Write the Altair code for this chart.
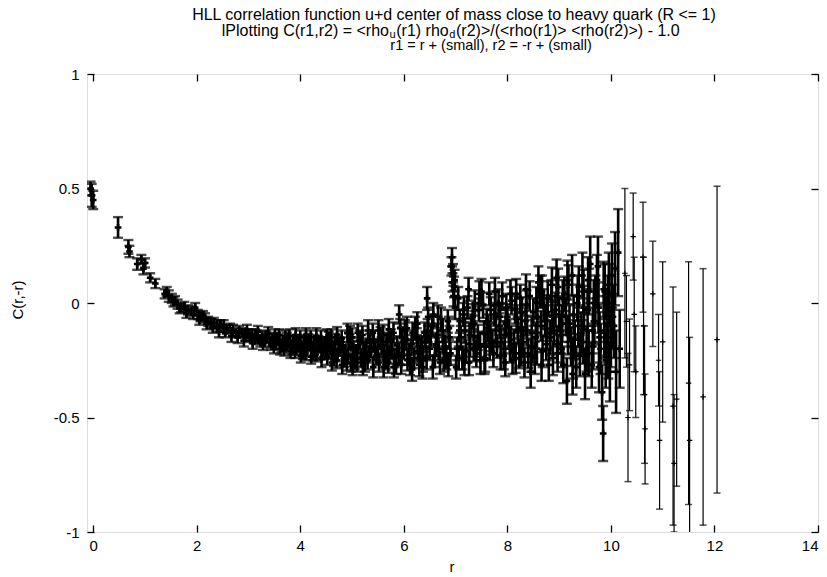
import altair as alt
import pandas as pd

# ---------------- data ----------------
r_a = [-0.05, -0.03, 0.00, 0.48, 0.68, 0.70, 0.85, 0.93, 0.97, 1.00, 1.10, 1.20, 1.38, 1.42, 1.46,
       1.52, 1.58, 1.63, 1.70, 1.76, 1.83, 1.90, 1.97, 2.02, 2.07, 2.12, 2.16, 2.22, 2.28, 2.33,
       2.40, 2.46, 2.52, 2.58, 2.64, 2.70, 2.76, 2.82, 2.88, 2.94, 3.00, 3.06, 3.10, 3.15, 3.20,
       3.26, 3.31, 3.36, 3.42, 3.47, 3.52, 3.57, 3.62, 3.67, 3.72, 3.77, 3.82, 3.87, 3.92, 3.97,
       4.02, 4.07, 4.12, 4.17, 4.22, 4.27, 4.32, 4.37, 4.42, 4.47, 4.52, 4.57, 4.62, 4.67, 4.72,
       4.77, 4.82, 4.87, 4.92, 4.96, 4.98, 5.02, 5.07, 5.12, 5.17, 5.22, 5.27, 5.32, 5.37, 5.42,
       5.47, 5.52, 5.57, 5.62, 5.67, 5.72, 5.77, 5.82, 5.87, 5.91, 5.93, 5.95, 6.00, 6.05, 6.10,
       6.15, 6.20, 6.25, 6.30, 6.35, 6.40, 6.45, 6.47, 6.50, 6.55, 6.60, 6.65, 6.70, 6.75, 6.80,
       6.85, 6.90, 6.93, 6.95, 6.97, 6.99, 7.01, 7.05, 7.10, 7.15, 7.20, 7.25, 7.30, 7.35, 7.40,
       7.45, 7.50, 7.55, 7.60, 7.65, 7.70, 7.75, 7.80, 7.85, 7.90, 7.95, 8.00, 8.05, 8.10, 8.15,
       8.20, 8.25, 8.30, 8.35, 8.40, 8.45, 8.50, 8.55, 8.60, 8.65, 8.70, 8.75, 8.80, 8.85, 8.90,
       8.95, 9.00, 9.05, 9.10, 9.15, 9.20, 9.25, 9.30, 9.35, 9.40, 9.45, 9.50, 9.55, 9.60, 9.65,
       9.70, 9.75, 9.80, 9.83, 9.85, 9.88, 9.92, 9.96, 10.00, 10.04, 10.08, 10.10, 10.14, 10.17]
c_a = [0.50, 0.47, 0.45, 0.33, 0.245, 0.225, 0.17, 0.19, 0.15, 0.175, 0.11, 0.085, 0.04, 0.05, 0.03,
       0.02, 0.01, -0.005, -0.02, -0.015, -0.03, -0.035, -0.02, -0.05, -0.06, -0.055, -0.065, -0.08, -0.09, -0.085,
       -0.10, -0.095, -0.10, -0.115, -0.11, -0.12, -0.13, -0.125, -0.13, -0.14, -0.135, -0.14, -0.155, -0.145, -0.16,
       -0.15, -0.165, -0.155, -0.17, -0.16, -0.175, -0.165, -0.18, -0.17, -0.185, -0.175, -0.19, -0.165, -0.20, -0.18,
       -0.19, -0.175, -0.205, -0.185, -0.20, -0.17, -0.21, -0.19, -0.215, -0.18, -0.235, -0.195, -0.21, -0.17, -0.225,
       -0.20, -0.185, -0.215, -0.23, -0.14, -0.26, -0.20, -0.215, -0.185, -0.24, -0.205, -0.19, -0.225, -0.20, -0.16,
       -0.23, -0.26, -0.19, -0.215, -0.17, -0.225, -0.20, -0.24, -0.185, -0.05, -0.11, -0.27, -0.20, -0.16, -0.225,
       -0.18, -0.24, -0.15, -0.27, -0.19, -0.13, 0.02, -0.06, -0.20, -0.10, -0.23, -0.14, -0.26, -0.12, -0.19,
       -0.08, -0.22, 0.20, 0.13, 0.07, -0.02, -0.28, 0.02, -0.15, -0.05, -0.21, 0.06, -0.10, -0.20, -0.22,
       -0.03, 0.05, -0.13, -0.08, 0.04, -0.17, -0.05, -0.19, -0.10, 0.03, -0.14, -0.06, -0.20, -0.25, -0.03,
       -0.12, 0.02, -0.17, -0.08, -0.22, -0.30, -0.04, -0.15, 0.09, -0.10, -0.01, -0.18, -0.27, 0.03, -0.12,
       0.11, -0.05, -0.20, 0.04, -0.34, -0.09, 0.12, -0.16, 0.00, -0.23, 0.12, -0.31, -0.03, 0.17, -0.12,
       0.02, 0.16, -0.20, -0.39, -0.57, 0.05, -0.10, 0.08, -0.15, -0.06, 0.15, -0.30, 0.22, -0.20]
e_a = [0.03, 0.05, 0.04, 0.045, 0.03, 0.025, 0.025, 0.02, 0.025, 0.02, 0.02, 0.02, 0.02, 0.02, 0.025,
       0.02, 0.02, 0.02, 0.02, 0.02, 0.02, 0.02, 0.02, 0.02, 0.02, 0.02, 0.02, 0.02, 0.02, 0.02,
       0.025, 0.02, 0.025, 0.02, 0.02, 0.025, 0.02, 0.025, 0.02, 0.025, 0.02, 0.025, 0.02, 0.025, 0.02,
       0.025, 0.025, 0.02, 0.025, 0.025, 0.025, 0.02, 0.025, 0.03, 0.025, 0.025, 0.03, 0.025, 0.025, 0.03,
       0.025, 0.03, 0.03, 0.025, 0.03, 0.03, 0.03, 0.025, 0.03, 0.03, 0.035, 0.03, 0.03, 0.035, 0.03,
       0.03, 0.035, 0.03, 0.035, 0.04, 0.04, 0.035, 0.03, 0.035, 0.04, 0.035, 0.035, 0.035, 0.04, 0.04,
       0.04, 0.04, 0.04, 0.035, 0.04, 0.04, 0.045, 0.04, 0.04, 0.04, 0.04, 0.04, 0.045, 0.04, 0.045,
       0.04, 0.045, 0.04, 0.05, 0.045, 0.045, 0.05, 0.04, 0.05, 0.045, 0.05, 0.05, 0.05, 0.05, 0.05,
       0.05, 0.05, 0.04, 0.04, 0.045, 0.05, 0.05, 0.05, 0.05, 0.05, 0.05, 0.05, 0.05, 0.055, 0.06,
       0.05, 0.055, 0.05, 0.055, 0.05, 0.055, 0.05, 0.05, 0.055, 0.06, 0.06, 0.055, 0.06, 0.06, 0.06,
       0.06, 0.06, 0.065, 0.06, 0.065, 0.07, 0.06, 0.065, 0.07, 0.065, 0.07, 0.07, 0.07, 0.07, 0.07,
       0.08, 0.075, 0.08, 0.075, 0.10, 0.08, 0.09, 0.085, 0.08, 0.09, 0.10, 0.11, 0.09, 0.12, 0.10,
       0.10, 0.13, 0.11, 0.12, 0.12, 0.12, 0.13, 0.14, 0.13, 0.14, 0.16, 0.18, 0.19, 0.17]

r_b = [3.03, 3.13, 3.23, 3.33, 3.44, 3.54, 3.64, 3.74, 3.85, 3.95, 4.05, 4.15, 4.25, 4.35, 4.45,
       4.55, 4.65, 4.75, 4.85, 4.95, 5.05, 5.15, 5.25, 5.35, 5.45, 5.55, 5.65, 5.75, 5.85, 5.97,
       6.07, 6.17, 6.27, 6.37, 6.42, 6.52, 6.62, 6.72, 6.82, 6.88, 7.03, 7.08, 7.13, 7.18, 7.23,
       7.28, 7.33, 7.43, 7.48, 7.53, 7.58, 7.63, 7.68, 7.73, 7.78, 7.83, 7.88, 7.93, 7.98, 8.03,
       8.08, 8.13, 8.18, 8.23, 8.28, 8.33, 8.38, 8.43, 8.48, 8.53, 8.58, 8.63, 8.68, 8.73, 8.78,
       8.83, 8.88, 8.93, 8.98, 9.03, 9.08, 9.13, 9.18, 9.23, 9.28, 9.33, 9.38, 9.43, 9.48, 9.53,
       9.58, 9.63, 9.68, 9.73, 9.78, 9.90, 9.94, 9.98, 10.02, 10.06]
c_b = [-0.15, -0.14, -0.17, -0.145, -0.18, -0.155, -0.19, -0.16, -0.20, -0.17, -0.215, -0.165, -0.22, -0.175, -0.20,
       -0.16, -0.24, -0.18, -0.245, -0.17, -0.25, -0.16, -0.26, -0.175, -0.21, -0.15, -0.25, -0.16, -0.27, -0.15,
       -0.25, -0.13, -0.21, -0.25, -0.17, -0.14, -0.18, -0.07, -0.24, -0.15, -0.20, -0.08, -0.24, -0.12, -0.02,
       -0.18, -0.06, -0.15, -0.25, -0.01, -0.19, -0.11, -0.03, -0.22, -0.12, 0.00, -0.17, -0.23, -0.02, -0.13,
       0.01, -0.18, -0.07, -0.22, -0.04, -0.26, -0.12, 0.03, -0.19, -0.24, -0.06, 0.05, -0.21, -0.08, 0.02,
       -0.15, -0.24, -0.03, 0.07, -0.14, -0.27, -0.06, 0.08, -0.19, -0.05, -0.28, 0.07, -0.13, -0.02, -0.20,
       0.05, -0.27, -0.08, 0.10, -0.15, -0.25, 0.00, -0.30, 0.12, -0.10]
e_b = [0.02, 0.025, 0.02, 0.025, 0.025, 0.025, 0.025, 0.03, 0.025, 0.03, 0.03, 0.03, 0.03, 0.03, 0.035,
       0.035, 0.035, 0.03, 0.035, 0.035, 0.04, 0.04, 0.04, 0.04, 0.04, 0.045, 0.04, 0.045, 0.04, 0.045,
       0.045, 0.045, 0.05, 0.05, 0.045, 0.05, 0.05, 0.05, 0.05, 0.05, 0.05, 0.05, 0.05, 0.055, 0.05,
       0.055, 0.055, 0.055, 0.06, 0.055, 0.055, 0.06, 0.055, 0.06, 0.06, 0.06, 0.06, 0.06, 0.06, 0.06,
       0.06, 0.065, 0.06, 0.065, 0.065, 0.065, 0.065, 0.065, 0.07, 0.07, 0.07, 0.07, 0.07, 0.07, 0.075,
       0.075, 0.075, 0.075, 0.08, 0.08, 0.08, 0.08, 0.085, 0.085, 0.085, 0.09, 0.09, 0.09, 0.095, 0.10,
       0.10, 0.10, 0.10, 0.11, 0.11, 0.12, 0.12, 0.13, 0.14, 0.14]

r_c = [1.55, 1.67, 1.80, 1.93, 2.05, 2.19, 2.31, 2.43, 2.55, 2.67, 2.79, 2.91, 2.97, 3.08, 3.18,
       3.28, 3.38, 3.49, 3.59, 3.69, 3.79, 3.90, 4.00, 4.10, 4.20, 4.30, 4.40, 4.50, 4.60, 4.70,
       4.80, 4.90, 5.00, 5.10, 5.20, 5.30, 5.40, 5.50, 5.60, 5.70, 5.80, 5.90, 6.02, 6.12, 6.22,
       6.32, 6.44, 6.57, 6.67, 6.77, 6.87, 6.92, 6.94, 6.96, 7.07, 7.17, 7.27, 7.37, 7.47, 7.57,
       7.67, 7.77, 7.87, 7.97, 8.07, 8.17, 8.27, 8.37, 8.47, 8.57, 8.67, 8.77, 8.87, 8.97, 9.07,
       9.17, 9.27, 9.37, 9.47, 9.57, 9.67, 9.77, 9.87, 9.97]
c_c = [0.005, -0.025, -0.045, -0.05, -0.075, -0.09, -0.11, -0.125, -0.13, -0.145, -0.15, -0.165, -0.12, -0.175, -0.125,
       -0.18, -0.13, -0.19, -0.14, -0.20, -0.145, -0.21, -0.15, -0.22, -0.15, -0.225, -0.155, -0.21, -0.15, -0.25,
       -0.155, -0.26, -0.15, -0.26, -0.14, -0.25, -0.13, -0.20, -0.14, -0.26, -0.13, -0.22, -0.12, -0.27, -0.11,
       -0.20, -0.24, -0.05, -0.20, -0.25, -0.11, 0.16, 0.09, 0.03, -0.12, -0.26, -0.14, 0.00, -0.18, -0.24,
       -0.15, -0.01, -0.23, -0.09, -0.16, 0.04, -0.21, -0.01, -0.13, -0.20, 0.05, -0.13, -0.06, -0.22, 0.02,
       -0.14, -0.24, -0.10, 0.05, -0.22, 0.00, -0.28, -0.12, 0.04]
e_c = [0.02, 0.02, 0.02, 0.02, 0.02, 0.025, 0.02, 0.025, 0.02, 0.025, 0.025, 0.025, 0.025, 0.025, 0.025,
       0.025, 0.025, 0.03, 0.025, 0.03, 0.03, 0.03, 0.03, 0.03, 0.03, 0.03, 0.035, 0.035, 0.035, 0.035,
       0.035, 0.035, 0.04, 0.04, 0.04, 0.04, 0.04, 0.04, 0.045, 0.045, 0.045, 0.045, 0.045, 0.045, 0.05,
       0.05, 0.05, 0.05, 0.05, 0.05, 0.05, 0.04, 0.04, 0.045, 0.05, 0.055, 0.055, 0.055, 0.055, 0.06,
       0.06, 0.06, 0.06, 0.06, 0.06, 0.065, 0.065, 0.065, 0.07, 0.07, 0.07, 0.075, 0.075, 0.08, 0.08,
       0.085, 0.09, 0.09, 0.095, 0.10, 0.10, 0.11, 0.12, 0.13]

r_d = [3.51, 3.61, 3.71, 3.81, 3.91, 4.01, 4.11, 4.21, 4.31, 4.41, 4.51, 4.61, 4.71, 4.81, 4.91,
       5.01, 5.11, 5.21, 5.31, 5.41, 5.51, 5.61, 5.71, 5.81, 5.96, 6.06, 6.16, 6.26, 6.36, 6.46,
       6.56, 6.66, 6.76, 6.86, 6.98, 7.06, 7.16, 7.26, 7.36, 7.46, 7.56, 7.66, 7.76, 7.86, 7.96,
       8.06, 8.16, 8.26, 8.36, 8.46, 8.56, 8.66, 8.76, 8.86, 8.96, 9.06, 9.16, 9.26, 9.36, 9.46,
       9.56, 9.66, 9.76, 9.86, 9.95]
c_d = [-0.14, -0.20, -0.15, -0.21, -0.14, -0.23, -0.14, -0.235, -0.145, -0.245, -0.15, -0.26, -0.14, -0.27, -0.13,
       -0.275, -0.13, -0.275, -0.12, -0.28, -0.12, -0.28, -0.115, -0.28, -0.22, -0.11, -0.29, -0.09, -0.28, -0.12,
       -0.28, -0.06, -0.17, -0.27, 0.10, -0.24, -0.03, -0.26, -0.09, 0.04, -0.25, -0.19, 0.05, -0.06, -0.26,
       0.04, -0.24, -0.11, 0.06, -0.23, 0.00, -0.27, -0.04, 0.08, -0.18, -0.09, 0.10, -0.31, 0.03, -0.17,
       0.10, -0.19, -0.02, 0.06, -0.20]
e_d = [0.025, 0.025, 0.03, 0.03, 0.03, 0.03, 0.03, 0.03, 0.035, 0.035, 0.035, 0.035, 0.035, 0.04, 0.04,
       0.04, 0.04, 0.04, 0.045, 0.045, 0.045, 0.045, 0.045, 0.045, 0.05, 0.05, 0.05, 0.05, 0.05, 0.05,
       0.05, 0.05, 0.05, 0.05, 0.045, 0.05, 0.055, 0.055, 0.055, 0.055, 0.06, 0.06, 0.06, 0.06, 0.06,
       0.06, 0.065, 0.065, 0.065, 0.07, 0.07, 0.07, 0.075, 0.075, 0.08, 0.08, 0.085, 0.09, 0.09, 0.095,
       0.10, 0.10, 0.11, 0.12, 0.13]

r_tail = [10.27, 10.30, 10.33, 10.36, 10.43, 10.45, 10.48, 10.62, 10.63, 10.65, 10.66, 10.81,
          10.92, 10.94, 11.00, 11.20, 11.22, 11.27, 11.50, 11.52, 11.78, 12.05]
c_tail = [0.13, -0.08, -0.50, -0.27, 0.29, -0.05, -0.30, 0.20, -0.10, -0.40, -0.55, 0.04,
          -0.25, -0.60, -0.17, -0.45, -0.70, -0.42, -0.35, -0.60, -0.41, -0.16]
e_tail = [0.37, 0.20, 0.28, 0.20, 0.19, 0.25, 0.20, 0.24, 0.30, 0.30, 0.24, 0.23,
          0.20, 0.30, 0.35, 0.52, 0.30, 0.38, 0.53, 0.45, 0.56, 0.67]

x_ticks = [0, 2, 4, 6, 8, 10, 12, 14]
y_ticks = [-1, -0.5, 0, 0.5, 1]

title_line1 = "HLL correlation function u+d center of mass close to heavy quark (R <= 1)"
title_line2 = [("lPlotting C(r1,r2) = <rho", False), ("u", True), ("(r1) rho", False),
               ("d", True), ("(r2)>/(<rho(r1)> <rho(r2)>) - 1.0", False)]
title_line3 = "r1 = r + (small), r2 = -r + (small)"
x_title = "r"
y_title = "C(r,-r)"

# ---------------- layout / style ----------------
W, H = 731, 458
FONT = "Liberation Sans"
INK = "#000000"
TS = 16      # title font size
SUB = 11     # subscript size
DENSE_END = 10.2   # where the dense band ends and the sparse tail begins

df = pd.DataFrame({"r": r_a + r_b + r_c + r_d + r_tail,
                   "c": c_a + c_b + c_c + c_d + c_tail,
                   "e": e_a + e_b + e_c + e_d + e_tail})

xs = alt.Scale(domain=[-0.12, 14], nice=False, zero=False)
ys = alt.Scale(domain=[-1, 1], nice=False, zero=False)

tick_common = dict(domain=False, grid=False, tickColor=INK, tickSize=7, tickWidth=1.3,
                   offset=-7, title=None)
x_axis = alt.Axis(values=x_ticks, orient="bottom", labelFont=FONT, labelFontSize=15,
                  labelColor=INK, labelPadding=6, **tick_common)
y_axis = alt.Axis(values=y_ticks, orient="left", labelFont=FONT, labelFontSize=15,
                  labelColor=INK, labelPadding=8,
                  labelExpr="datum.value < 0 ? '-' + format(-datum.value, '~g') : format(datum.value, '~g')",
                  **tick_common)
x_axis_top = alt.Axis(values=x_ticks, orient="top", labels=False, **tick_common)
y_axis_right = alt.Axis(values=y_ticks, orient="right", labels=False, **tick_common)

base = alt.Chart(df).transform_calculate(lo="datum.c - datum.e", hi="datum.c + datum.e")
dense = base.transform_filter(alt.datum.r < DENSE_END)
tail = base.transform_filter(alt.datum.r >= DENSE_END)

XN = alt.X("r:Q", scale=xs, axis=None)


def errorbars(src, bw, capw, caps, cross, with_axes=False):
    if with_axes:
        bx = alt.X("r:Q", scale=xs, axis=x_axis)
        by = alt.Y("lo:Q", scale=ys, axis=y_axis)
    else:
        bx = XN
        by = alt.Y("lo:Q", scale=ys, axis=None)
    bar = src.mark_rule(color=INK, strokeWidth=bw, clip=True).encode(x=bx, y=by, y2="hi:Q")
    lo = src.mark_tick(orient="horizontal", size=caps, thickness=capw, color=INK, clip=True).encode(
        x=XN, y=alt.Y("lo:Q", scale=ys, axis=None))
    hi = src.mark_tick(orient="horizontal", size=caps, thickness=capw, color=INK, clip=True).encode(
        x=XN, y=alt.Y("hi:Q", scale=ys, axis=None))
    ctr = src.mark_point(shape="M-1,0H1M0,-1V1", size=cross, filled=False, strokeWidth=bw,
                         color=INK, opacity=1, clip=True).encode(
        x=XN, y=alt.Y("c:Q", scale=ys, axis=None))
    return [bar, lo, hi, ctr]


layers = errorbars(dense, 2.6, 2.4, 10, 44, with_axes=True) + errorbars(tail, 1.2, 1.5, 7, 30)

mirror = base.mark_point(opacity=0).encode(
    x=alt.X("r:Q", scale=xs, axis=x_axis_top),
    y=alt.Y("c:Q", scale=ys, axis=y_axis_right),
)


def text_layer(txt, x, y, size=TS, align="center", angle=None):
    kw = dict(font=FONT, fontSize=size, color=INK, align=align, baseline="middle")
    if angle is not None:
        kw["angle"] = angle
    return alt.Chart(pd.DataFrame({"t": [txt]})).mark_text(**kw).encode(
        text="t:N", x=alt.value(x), y=alt.value(y))


# Helvetica / Liberation Sans advance widths (1/1000 em) for laying out line 2
HW = {'l': 222, 'P': 667, 'o': 556, 't': 278, 'i': 222, 'n': 556, 'g': 556, ' ': 278, 'C': 722,
      '(': 333, 'r': 333, '1': 556, ',': 278, '2': 556, ')': 333, '=': 584, '<': 584, 'h': 556,
      'u': 556, 'd': 556, '>': 584, '/': 278, '-': 333, '.': 278, '0': 556}


def tw(s, size):
    return sum(HW.get(ch, 556) for ch in s) * size / 1000.0


GAP = 0.6
line_y = [-59, -43, -28]
texts = [text_layer(title_line1, 367, line_y[0])]
total = sum(tw(s, SUB if sub else TS) + GAP for s, sub in title_line2)
xpos = 364 - total / 2.0
for s, sub in title_line2:
    size = SUB if sub else TS
    texts.append(text_layer(s, xpos, line_y[1] + (4 if sub else 0), size=size, align="left"))
    xpos += tw(s, size) + GAP
texts.append(text_layer(title_line3, 404, line_y[2], size=14.5))
texts.append(text_layer(x_title, 365, 493, size=15))
texts.append(text_layer(y_title, -69, 226, size=15, angle=270))

chart = alt.layer(*layers, mirror, *texts).resolve_axis(
    x="independent", y="independent"
).properties(
    width=W, height=H,
    autosize=alt.AutoSizeParams(type="none"),
    padding={"left": 87, "top": 74, "right": 9, "bottom": 45},
).configure_view(stroke=INK, strokeWidth=1.5).configure(background="white")

chart.save("out.html", embed_options={"renderer": "svg", "actions": False})
